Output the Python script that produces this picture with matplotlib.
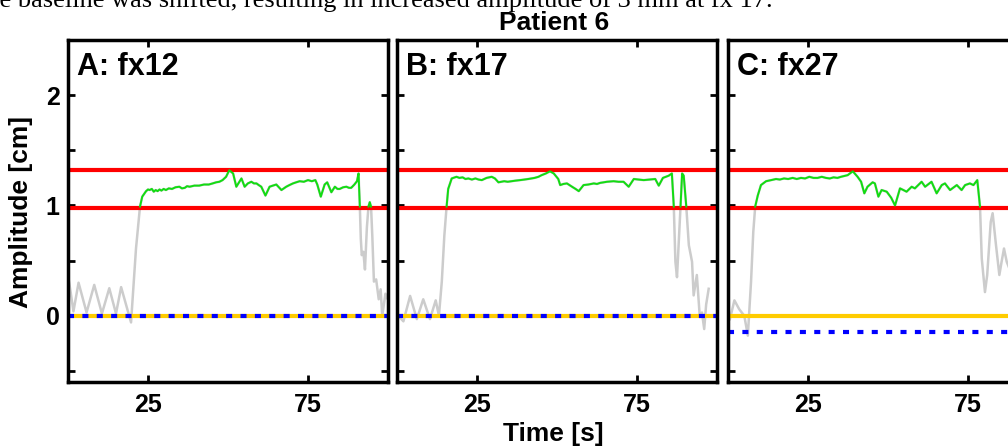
import numpy as np
import matplotlib
matplotlib.use("Agg")
import matplotlib.pyplot as plt

# Breathing amplitude traces (time in s, amplitude in cm)
time_a = [0.2, 0.8, 1.7, 3.3, 5.8, 8.2, 10.6, 12.9, 15.0, 16.6, 19.7, 21.25, 22.5,
          23.2, 24.4, 25.0, 25.5, 26.2, 26.8, 27.4, 28.0, 28.6, 29.2, 29.9, 30.6,
          31.5, 32.5, 33.6, 34.8, 35.6, 36.5, 37.2, 38.0, 39.5, 41.0, 42.5, 44.0,
          45.2, 46.3, 47.3, 48.3, 49.4, 50.4, 51.6, 52.6, 54.2, 55.2, 56.2, 57.3,
          58.1, 58.9, 59.6, 60.4, 61.7, 63.0, 64.0, 65.1, 66.7, 68.2, 69.2, 70.3,
          71.3, 72.4, 73.7, 75.0, 76.2, 77.3, 77.9, 79.0, 80.2, 81.0, 82.3, 83.4,
          84.2, 84.9, 86.0, 87.0, 87.8, 88.5, 89.5, 90.3, 90.8, 91.2, 91.5, 91.8,
          92.3, 92.8, 93.4, 93.9, 94.3, 94.7, 95.1, 95.6, 96.3, 97.1, 97.7, 98.2,
          99.2, 99.7]
amp_a = [0.33, 0.22, 0.04, 0.30, 0.03, 0.28, 0.02, 0.25, 0.02, 0.26, -0.06, 0.61, 0.99,
         1.08, 1.13, 1.145, 1.14, 1.15, 1.125, 1.14, 1.13, 1.145, 1.135, 1.15, 1.14,
         1.155, 1.15, 1.165, 1.17, 1.155, 1.16, 1.175, 1.17, 1.18, 1.18, 1.19, 1.19,
         1.2, 1.21, 1.215, 1.23, 1.26, 1.32, 1.29, 1.17, 1.245, 1.17, 1.2, 1.215,
         1.2, 1.2, 1.185, 1.17, 1.09, 1.17, 1.18, 1.19, 1.14, 1.17, 1.185, 1.20,
         1.21, 1.22, 1.215, 1.23, 1.22, 1.23, 1.19, 1.08, 1.19, 1.21, 1.12, 1.17,
         1.15, 1.15, 1.165, 1.17, 1.16, 1.16, 1.19, 1.22, 1.29, 0.99, 0.70, 0.55,
         0.58, 0.42, 0.80, 0.99, 1.03, 0.99, 0.72, 0.31, 0.33, 0.15, 0.24, 0.0,
         0.20, 0.16]

time_b = [0.4, 2.0, 4.1, 6.2, 8.2, 10.3, 12.1, 13.1, 14.0, 14.8, 15.5, 16.0, 17.1,
          18.6, 19.5, 20.5, 21.4, 22.3, 23.4, 24.5, 25.5, 26.5, 28.0, 29.6, 30.6,
          31.7, 33.5, 34.6, 35.8, 37.0, 38.5, 39.8, 41.0, 42.0, 43.0, 44.2, 45.2,
          46.5, 47.8, 49.0, 50.4, 51.0, 52.0, 53.1, 54.7, 55.8, 56.8, 58.3, 59.8,
          61.5, 62.5, 63.5, 64.6, 65.6, 67.7, 69.2, 70.8, 72.4, 74.0, 75.5, 77.1,
          78.9, 80.7, 81.8, 83.1, 84.9, 85.9, 86.5, 87.0, 87.5, 88.0, 88.6, 89.1,
          89.6, 90.4, 91.2, 92.2, 92.7, 93.7, 94.6, 95.3, 96.0, 96.6, 97.4]
amp_b = [0.0, -0.05, 0.18, -0.03, 0.15, -0.03, 0.14, 0.0, 0.31, 0.73, 0.99, 1.15, 1.245,
         1.26, 1.25, 1.255, 1.24, 1.245, 1.235, 1.245, 1.235, 1.23, 1.25, 1.26, 1.245,
         1.21, 1.22, 1.215, 1.22, 1.225, 1.23, 1.235, 1.24, 1.245, 1.25, 1.26, 1.275,
         1.29, 1.31, 1.29, 1.24, 1.185, 1.195, 1.20, 1.17, 1.15, 1.13, 1.185, 1.19,
         1.20, 1.195, 1.205, 1.21, 1.215, 1.22, 1.215, 1.215, 1.17, 1.24, 1.235, 1.23,
         1.235, 1.24, 1.18, 1.25, 1.27, 1.29, 0.99, 0.49, 0.35, 0.64, 0.99, 1.29,
         1.27, 0.99, 0.64, 0.49, 0.185, 0.37, 0.0, 0.03, -0.12, 0.10, 0.245]

time_c = [0.6, 2.0, 3.5, 5.1, 6.2, 7.2, 7.9, 8.5, 9.3, 10.3, 11.9, 13.5, 15.0, 16.2,
          17.5, 18.8, 20.2, 21.5, 22.8, 24.1, 25.4, 26.7, 28.0, 29.3, 30.6, 31.8,
          33.0, 34.2, 35.3, 37.4, 39.0, 40.5, 41.6, 42.6, 43.6, 45.2, 45.9, 47.0,
          48.0, 49.6, 51.0, 52.2, 53.75, 54.8, 55.8, 57.4, 58.4, 60.5, 61.6, 63.6,
          65.2, 66.8, 67.8, 69.4, 71.5, 73.0, 74.1, 75.6, 76.7, 77.9, 78.75, 79.3,
          80.3, 81.0, 82.1, 82.7, 83.75, 84.8, 85.5, 86.25, 87.1, 89.0, 92.0, 96.0,
          99.5]
amp_c = [-0.03, 0.14, 0.06, 0.0, -0.18, 0.31, 0.76, 0.99, 1.09, 1.185, 1.22, 1.23, 1.24,
         1.235, 1.245, 1.24, 1.25, 1.24, 1.25, 1.245, 1.26, 1.25, 1.25, 1.26, 1.25,
         1.245, 1.255, 1.25, 1.26, 1.275, 1.31, 1.26, 1.215, 1.11, 1.17, 1.21,
         1.20, 1.08, 1.14, 1.125, 1.07, 1.0, 1.155, 1.14, 1.125, 1.17, 1.155, 1.215,
         1.17, 1.215, 1.11, 1.185, 1.20, 1.14, 1.185, 1.14, 1.185, 1.20, 1.185, 1.23,
         0.99, 0.52, 0.215, 0.37, 0.85, 0.93, 0.64, 0.37, 0.49, 0.61, 0.49, 0.35,
         0.20, 0.05, 0.0]

panel_titles = ["A: fx12", "B: fx17", "C: fx27"]
gate_lower = 0.98
gate_upper = 1.32
reference_level = [0.0, 0.0, 0.0]
baseline_level = [0.0, 0.0, -0.15]

x_ticks = [25, 75]
y_ticks = [-0.5, 0, 0.5, 1, 1.5, 2]
y_tick_labels = ["", "0", "", "1", "", "2"]

FONT = "Liberation Sans"


def draw_panel(ax, t, amp, title, ref, base, show_ylabels):
    t = np.array(t)
    amp = np.array(amp)

    # gating window
    ax.axhline(gate_upper, color="#ff0000", lw=3.0, zorder=2)
    ax.axhline(gate_lower, color="#ff0000", lw=3.0, zorder=2)

    # whole trace in grey, the part inside the window in green
    ax.plot(t, amp, color="#cccccc", lw=1.8, zorder=1.5)
    inside = np.where(amp >= gate_lower, amp, np.nan)
    ax.plot(t, inside, color="#11dd11", lw=1.4, zorder=3)

    # reference and baseline levels
    ax.axhline(ref, color="#ffcc00", lw=3.0, zorder=2.1)
    ax.axhline(base, color="#0000ff", lw=3.0, zorder=2.2,
               linestyle=(0, (1.45, 2.0)))

    ax.set_xlim(0, 100)
    ax.set_ylim(-0.6, 2.5)
    ax.set_xticks(x_ticks)
    ax.set_yticks(y_ticks)
    ax.set_xticklabels([str(v) for v in x_ticks], fontsize=18,
                       fontweight="bold", family=FONT)
    if show_ylabels:
        ax.set_yticklabels(y_tick_labels, fontsize=18, fontweight="bold",
                           family=FONT)
    else:
        ax.set_yticklabels([])
    ax.tick_params(direction="in", length=5, width=2, top=True, right=True)
    ax.tick_params(axis="x", pad=8)
    ax.tick_params(axis="y", pad=6)
    for s in ax.spines.values():
        s.set_linewidth(2.5)
        s.set_zorder(5)

    ax.text(0.028, 0.965, title, transform=ax.transAxes, ha="left", va="top",
            fontsize=22, fontweight="bold", family=FONT)


def main():
    fig = plt.figure(figsize=(10.08, 4.48), dpi=100)
    W, H = 1008.0, 448.0

    bottom = 1 - 382 / H
    height = 342 / H
    lefts = [68, 397, 728]
    traces = [(time_a, amp_a), (time_b, amp_b), (time_c, amp_c)]

    for i in range(3):
        ax = fig.add_axes([lefts[i] / W, bottom, 320 / W, height])
        draw_panel(ax, traces[i][0], traces[i][1], panel_titles[i],
                   reference_level[i], baseline_level[i], i == 0)

    # shared labels
    fig.text(554 / W, 1 - 23 / H, "Patient 6", ha="center", va="center",
             fontsize=19, fontweight="bold", family=FONT)
    fig.text(553 / W, 1 - 434 / H, "Time [s]", ha="center", va="center",
             fontsize=19, fontweight="bold", family=FONT)
    fig.text(21 / W, 1 - 212 / H, "Amplitude [cm]", ha="center", va="center",
             rotation=90, fontsize=19, fontweight="bold", family=FONT)

    # cut-off line of the caption above the figure
    fig.text(773 / W, 1 - 7 / H,
             "the baseline was shifted, resulting in increased amplitude of 3 mm at fx 17.",
             ha="right", va="baseline", fontsize=19, family="Liberation Serif")

    fig.savefig("out.png", dpi=100)


if __name__ == "__main__":
    main()
